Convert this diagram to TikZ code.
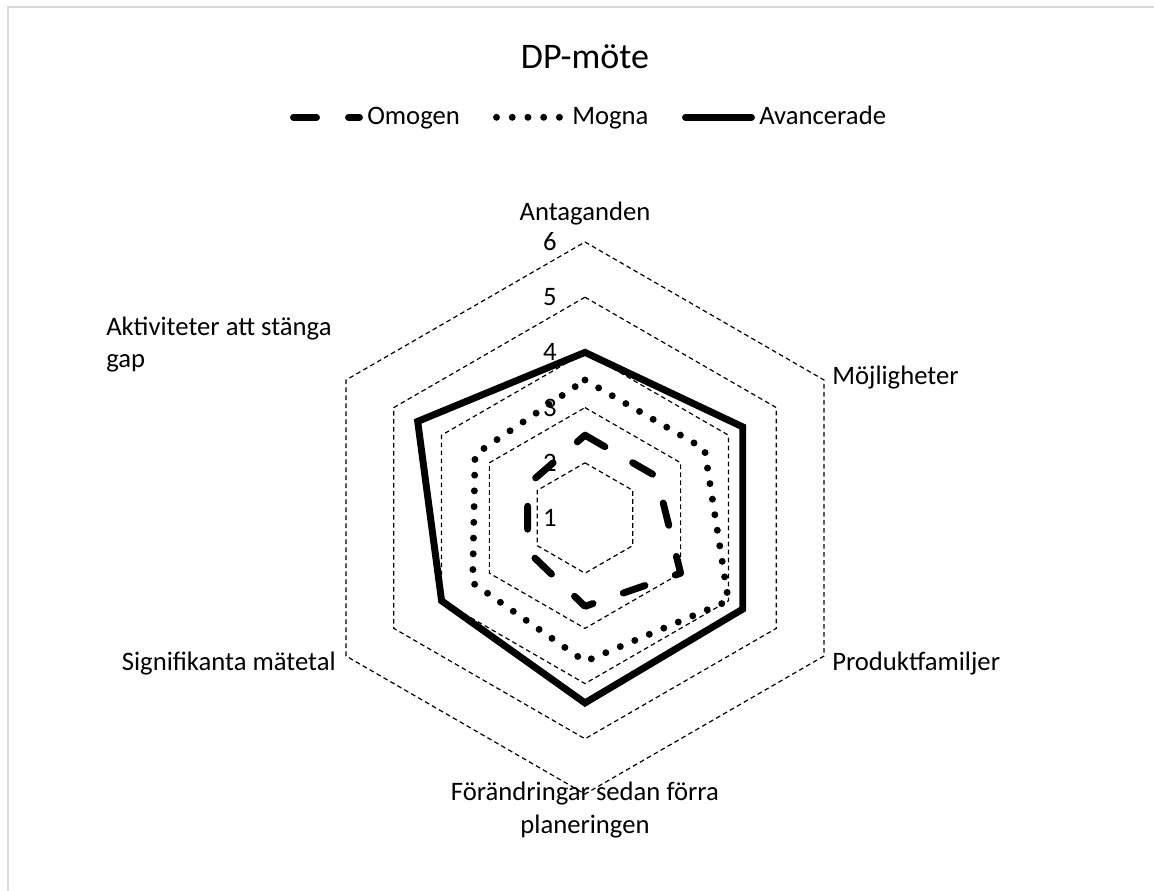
\documentclass[tikz,border=0pt]{standalone}
\usepackage{fontspec}
\setmainfont{Carlito}
\usetikzlibrary{calc}
\begin{document}
\begin{tikzpicture}[x=0.75pt,y=-0.75pt,
  gridline/.style={black, line width=0.9pt, dash pattern=on 3.5pt off 2.5pt},
  omogen/.style={black, line width=5.2pt, line cap=round, line join=round, dash pattern=on 17.25pt off 24pt},
  mogna/.style={black, line width=5.2pt, line cap=round, dash pattern=on 0pt off 11.8pt},
  avancerade/.style={black, line width=5.2pt, line join=miter},
  lbl/.style={font=\fontsize{20}{24.5}\selectfont, inner sep=0pt},
  ttl/.style={font=\fontsize{27}{32}\selectfont, inner sep=0pt},
]
\useasboundingbox (0,0) rectangle (1154,891);
% chart area outline
\draw[color=black!15, line width=1.5pt] (7.5,891) -- (7.5,7.5) -- (1154,7.5);

\def\ru{55.2}
\coordinate (C) at (585,518);

% title and legend
\node[ttl, anchor=base] (title) at (585,69) {DP-möte};

\coordinate (lgA1) at (293.5,117.3);
\coordinate (lgA2) at (359.5,117.3);
\draw[omogen] (lgA1) -- (lgA2);
\node[lbl, anchor=base west] (lgOmogen) at (367,125) {Omogen};
\coordinate (lgB1) at (496.5,117.3);
\coordinate (lgB2) at (559.5,117.3);
\draw[mogna] (lgB1) -- (lgB2);
\node[lbl, anchor=base west] (lgMogna) at (572,125) {Mogna};
\coordinate (lgC1) at (685.5,117.3);
\coordinate (lgC2) at (751.5,117.3);
\draw[avancerade, line cap=round] (lgC1) -- (lgC2);
\node[lbl, anchor=base west] (lgAvanc) at (759,125) {Avancerade};

% grid rings
\foreach \v in {2,...,6} {
  \draw[gridline] ($(C)+(270:{(\v-1)*\ru})$) -- ($(C)+(330:{(\v-1)*\ru})$)
    -- ($(C)+(30:{(\v-1)*\ru})$) -- ($(C)+(90:{(\v-1)*\ru})$)
    -- ($(C)+(150:{(\v-1)*\ru})$) -- ($(C)+(210:{(\v-1)*\ru})$) -- cycle;
}
% scale values
\foreach \v in {1,...,6} {
  \node[lbl, anchor=east] (tick\v) at ($(C)+(-28,{-(\v-1)*\ru})$) {\v};
}

% series: Omogen
\coordinate (om1) at ($(C)+(270:{(2.5-1)*\ru})$);
\coordinate (om2) at ($(C)+(330:{(2.5-1)*\ru})$);
\coordinate (om3) at ($(C)+(30:{(3.0-1)*\ru})$);
\coordinate (om4) at ($(C)+(90:{(2.6-1)*\ru})$);
\coordinate (om5) at ($(C)+(150:{(2.2-1)*\ru})$);
\coordinate (om6) at ($(C)+(210:{(2.2-1)*\ru})$);
% series: Mogna
\coordinate (mo1) at ($(C)+(270:{(3.5-1)*\ru})$);
\coordinate (mo2) at ($(C)+(330:{(3.5-1)*\ru})$);
\coordinate (mo3) at ($(C)+(30:{(4.0-1)*\ru})$);
\coordinate (mo4) at ($(C)+(90:{(3.6-1)*\ru})$);
\coordinate (mo5) at ($(C)+(150:{(3.35-1)*\ru})$);
\coordinate (mo6) at ($(C)+(210:{(3.3-1)*\ru})$);
% series: Avancerade
\coordinate (av1) at ($(C)+(270:{(4.0-1)*\ru})$);
\coordinate (av2) at ($(C)+(330:{(4.3-1)*\ru})$);
\coordinate (av3) at ($(C)+(30:{(4.3-1)*\ru})$);
\coordinate (av4) at ($(C)+(90:{(4.35-1)*\ru})$);
\coordinate (av5) at ($(C)+(150:{(4.0-1)*\ru})$);
\coordinate (av6) at ($(C)+(210:{(4.5-1)*\ru})$);

\draw[omogen] (om1) -- (om2) -- (om3) -- (om4) -- (om5) -- (om6) -- cycle;
\draw[mogna] (mo1) -- (mo2) -- (mo3) -- (mo4) -- (mo5) -- (mo6) -- cycle;
\draw[avancerade] (av1) -- (av2) -- (av3) -- (av4) -- (av5) -- (av6) -- cycle;

% category labels
\node[lbl, anchor=base] (catA) at (585,221) {Antaganden};
\node[lbl, anchor=base west] (catB) at (832,385) {Möjligheter};
\node[lbl, anchor=base west] (catC) at (832,670) {Produktfamiljer};
\node[lbl, anchor=base, align=center] (catD) at (585,833) {Förändringar sedan förra\\planeringen};
\node[lbl, anchor=base east] (catE) at (336,670) {Signifikanta mätetal};
\node[lbl, anchor=base west, align=left] (catF) at (106,368) {Aktiviteter att stänga\\gap};
\end{tikzpicture}
\end{document}
